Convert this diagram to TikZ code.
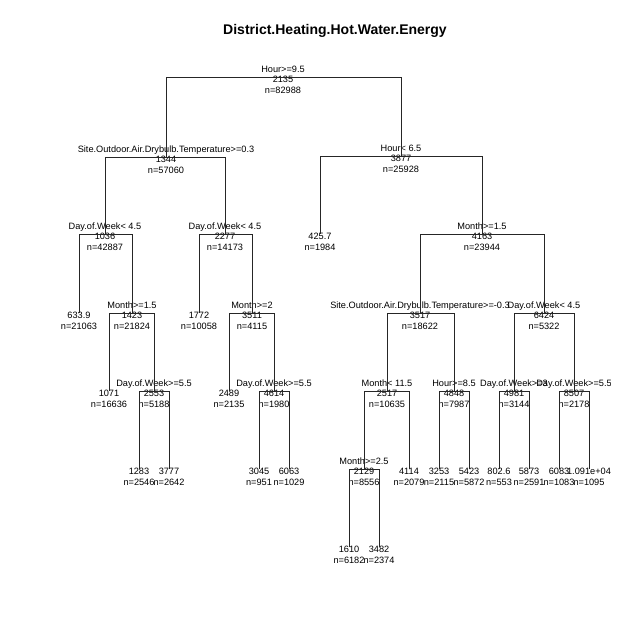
\documentclass[tikz,border=0pt]{standalone}
\usepackage{fontspec}
\setmainfont{Liberation Sans}
\usepackage{tikz}
\usetikzlibrary{positioning}

% split: name, x, y, rule, value, n
\newcommand{\splitnode}[6]{%
  \coordinate (#1) at (#2,#3);
  \node[lbl] (#1-r) at (#2,#3-7.5) {#4};
  \node[lbl] (#1-v) at (#2,#3+2) {#5};
  \node[lbl] (#1-n) at (#2,#3+13) {#6};
}
% leaf: name, x, y, value, n
\newcommand{\leafnode}[5]{%
  \coordinate (#1) at (#2,#3);
  \node[lbl] (#1-v) at (#2,#3+2.5) {#4};
  \node[lbl] (#1-n) at (#2,#3+13.5) {#5};
}

\begin{document}
\begin{tikzpicture}[
  x=1pt, y=-1pt,
  lbl/.style={inner sep=0pt, font=\fontsize{9.2}{10}\selectfont, text height=6.5pt, text depth=0pt},
  ttl/.style={inner sep=0pt, font=\fontsize{14}{16}\selectfont\bfseries},
  edge/.style={draw=black!85, line width=0.8pt},
]
  \useasboundingbox[fill=white] (0,0) rectangle (640,640);
  \node[ttl] (title) at (335,31) {District.Heating.Hot.Water.Energy};

  \begin{scope}
  \clip (0,0) rectangle (610,640);
  % splits and leaves
  \splitnode{root}{283}{77}{Hour>=9.5}{2135}{n=82988}
  \splitnode{a}{166}{157}{Site.Outdoor.Air.Drybulb.Temperature>=0.3}{1344}{n=57060}
  \splitnode{b}{401}{156}{Hour< 6.5}{3877}{n=25928}
  \splitnode{aa}{105}{234}{Day.of.Week< 4.5}{1036}{n=42887}
  \splitnode{ab}{225}{234}{Day.of.Week< 4.5}{2277}{n=14173}
  \leafnode{ba}{320}{234}{425.7}{n=1984}
  \splitnode{bb}{482}{234}{Month>=1.5}{4163}{n=23944}
  \leafnode{aaa}{79}{313}{633.9}{n=21063}
  \splitnode{aab}{132}{313}{Month>=1.5}{1423}{n=21824}
  \leafnode{aba}{199}{313}{1772}{n=10058}
  \splitnode{abb}{252}{313}{Month>=2}{3511}{n=4115}
  \splitnode{bba}{420}{313}{Site.Outdoor.Air.Drybulb.Temperature>=-0.3}{3517}{n=18622}
  \splitnode{bbb}{544}{313}{Day.of.Week< 4.5}{6424}{n=5322}
  \leafnode{aaba}{109}{391}{1071}{n=16636}
  \splitnode{aabb}{154}{391}{Day.of.Week>=5.5}{2553}{n=5188}
  \leafnode{abba}{229}{391}{2489}{n=2135}
  \splitnode{abbb}{274}{391}{Day.of.Week>=5.5}{4614}{n=1980}
  \splitnode{bbaa}{387}{391}{Month< 11.5}{2517}{n=10635}
  \splitnode{bbab}{454}{391}{Hour>=8.5}{4848}{n=7987}
  \splitnode{bbba}{514}{391}{Day.of.Week>=3}{4981}{n=3144}
  \splitnode{bbbb}{574}{391}{Day.of.Week>=5.5}{8507}{n=2178}
  \leafnode{aabba}{139}{469}{1283}{n=2546}
  \leafnode{aabbb}{169}{469}{3777}{n=2642}
  \leafnode{abbba}{259}{469}{3045}{n=951}
  \leafnode{abbbb}{289}{469}{6063}{n=1029}
  \splitnode{bbaaa}{364}{469}{Month>=2.5}{2129}{n=8556}
  \leafnode{bbaab}{409}{469}{4114}{n=2079}
  \leafnode{bbaba}{439}{469}{3253}{n=2115}
  \leafnode{bbabb}{469}{469}{5423}{n=5872}
  \leafnode{bbbaa}{499}{469}{802.6}{n=553}
  \leafnode{bbbab}{529}{469}{5873}{n=2591}
  \leafnode{bbbba}{559}{469}{6083}{n=1083}
  \leafnode{bbbbb}{589}{469}{1.091e+04}{n=1095}
  \leafnode{bbaaaa}{349}{547}{1610}{n=6182}
  \leafnode{bbaaab}{379}{547}{3482}{n=2374}

  % branches
  \foreach \p/\c in {root/a, root/b, a/aa, a/ab, b/ba, b/bb,
      aa/aaa, aa/aab, ab/aba, ab/abb, bb/bba, bb/bbb,
      aab/aaba, aab/aabb, abb/abba, abb/abbb,
      bba/bbaa, bba/bbab, bbb/bbba, bbb/bbbb,
      aabb/aabba, aabb/aabbb, abbb/abbba, abbb/abbbb,
      bbaa/bbaaa, bbaa/bbaab, bbab/bbaba, bbab/bbabb,
      bbba/bbbaa, bbba/bbbab, bbbb/bbbba, bbbb/bbbbb,
      bbaaa/bbaaaa, bbaaa/bbaaab}
    \draw[edge] (\p) -| (\c);
  \end{scope}
\end{tikzpicture}
\end{document}
